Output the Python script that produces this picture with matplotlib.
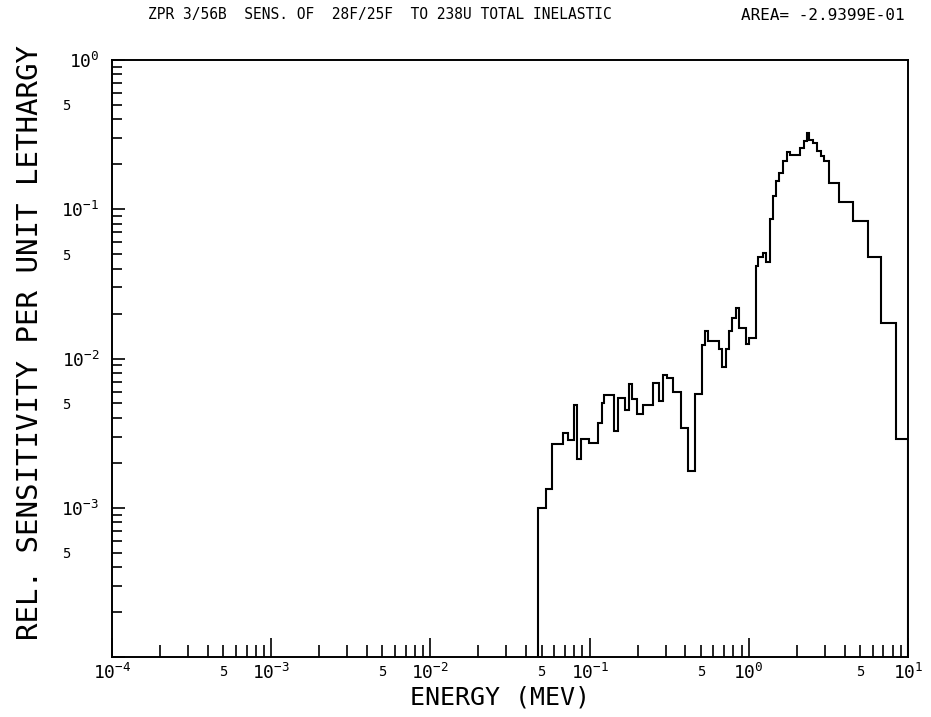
import numpy as np
import matplotlib
matplotlib.use("Agg")
import matplotlib.pyplot as plt
from matplotlib.ticker import FixedLocator, FuncFormatter

# ---------------------------------------------------------------------------
# Data: group boundaries (MeV) and sensitivity per lethargy
# ---------------------------------------------------------------------------
energy_edges = [
    0.0472, 0.0532, 0.0578, 0.0683, 0.0728, 0.0801, 0.0830, 0.0879, 0.0991,
    0.1124, 0.1191, 0.1237, 0.1429, 0.1514, 0.1668, 0.1767, 0.1837, 0.1975,
    0.2173, 0.2512, 0.2740, 0.2903, 0.3049, 0.3354, 0.3733, 0.4130, 0.4590,
    0.5058, 0.5305, 0.5564, 0.6525, 0.6756, 0.7157, 0.7506, 0.7874, 0.8271,
    0.8711, 0.9598, 1.0067, 1.104, 1.147, 1.222, 1.282, 1.358, 1.418, 1.481,
    1.558, 1.646, 1.737, 1.827, 2.111, 2.221, 2.310, 2.398, 2.541, 2.692,
    2.828, 2.966, 3.188, 3.700, 4.532, 5.578, 6.764, 8.400, 10.0,
]
sensitivity = [
    1.000e-3, 1.329e-3, 2.674e-3, 3.183e-3, 2.844e-3, 4.857e-3, 2.131e-3,
    2.902e-3, 2.703e-3, 3.679e-3, 5.009e-3, 5.667e-3, 3.283e-3, 5.410e-3,
    4.518e-3, 6.716e-3, 5.328e-3, 4.247e-3, 4.918e-3, 6.884e-3, 5.215e-3,
    7.752e-3, 7.402e-3, 5.963e-3, 3.406e-3, 1.763e-3, 5.755e-3, 1.232e-2,
    1.540e-2, 1.310e-2, 1.152e-2, 8.812e-3, 1.152e-2, 1.536e-2, 1.859e-2,
    2.190e-2, 1.609e-2, 1.245e-2, 1.378e-2, 4.166e-2, 4.807e-2, 5.066e-2,
    4.411e-2, 8.576e-2, 0.1227, 0.1558, 0.1736, 0.2105, 0.2407, 0.2327,
    0.2585, 0.2867, 0.3267, 0.2889, 0.2792, 0.2475, 0.2291, 0.2115, 0.1488,
    0.1110, 8.367e-2, 4.786e-2, 1.742e-2, 2.874e-3,
]

TITLE = "ZPR 3/56B  SENS. OF  28F/25F  TO 238U TOTAL INELASTIC"
AREA_TEXT = "AREA= -2.9399E-01"
XLABEL = "ENERGY (MEV)"
YLABEL = "REL. SENSITIVITY PER UNIT LETHARGY"

X_RANGE = (1e-4, 1e1)
Y_RANGE = (1e-4, 1e0)

# ---------------------------------------------------------------------------
# Style -- plotter-ish monospace lettering
# ---------------------------------------------------------------------------
plt.rcParams["font.family"] = "DejaVu Sans Mono"
plt.rcParams["mathtext.fontset"] = "custom"
plt.rcParams["mathtext.rm"] = "DejaVu Sans Mono"
plt.rcParams["axes.linewidth"] = 1.4


def decade_label(v, pos):
    e = int(round(np.log10(v)))
    return rf"$\mathregular{{10^{{{e}}}}}$"


def five_label(v, pos):
    m = v / 10 ** np.floor(np.log10(v) + 1e-9)
    return "5" if abs(m - 5) < 0.01 else ""


fig = plt.figure(figsize=(9.31, 7.17), dpi=100)
ax = fig.add_axes([112 / 931, 1 - 657 / 717, 796 / 931, 597 / 717])

ax.stairs(sensitivity, energy_edges, baseline=Y_RANGE[0],
          color="black", lw=1.5)

ax.set_xscale("log")
ax.set_yscale("log")
ax.set_xlim(*X_RANGE)
ax.set_ylim(*Y_RANGE)

x_dec = [10.0 ** e for e in range(-4, 2)]
y_dec = [10.0 ** e for e in range(-4, 1)]
x_min = [m * 10.0 ** e for e in range(-4, 1) for m in range(2, 10)]
y_min = [m * 10.0 ** e for e in range(-4, 0) for m in range(2, 10)]

ax.xaxis.set_major_locator(FixedLocator(x_dec))
ax.xaxis.set_minor_locator(FixedLocator(x_min))
ax.yaxis.set_major_locator(FixedLocator(y_dec))
ax.yaxis.set_minor_locator(FixedLocator(y_min))
ax.xaxis.set_major_formatter(FuncFormatter(decade_label))
ax.xaxis.set_minor_formatter(FuncFormatter(five_label))
ax.yaxis.set_major_formatter(
    FuncFormatter(lambda v, p: "" if v < 2e-4 else decade_label(v, p)))
ax.yaxis.set_minor_formatter(FuncFormatter(five_label))

ax.tick_params(axis="x", which="major", direction="in", length=14,
               width=1.2, labelsize=13, pad=4)
ax.tick_params(axis="x", which="minor", direction="in", length=9,
               width=1.2, labelsize=10, pad=6)
ax.tick_params(axis="y", which="major", direction="in", length=9,
               width=1.2, labelsize=13, pad=9)
ax.tick_params(axis="y", which="minor", direction="in", length=7,
               width=1.2, labelsize=10, pad=36)
for lab in ax.yaxis.get_minorticklabels():
    lab.set_horizontalalignment("left")

fig.text(148 / 931, 1 - 15 / 717, TITLE, fontsize=10.5,
         ha="left", va="center")
fig.text(905 / 931, 1 - 15 / 717, AREA_TEXT, fontsize=11.5,
         ha="right", va="center")
fig.text(500 / 931, 1 - 697 / 717, XLABEL, fontsize=18,
         ha="center", va="center")
fig.text(30 / 931, 1 - 342 / 717, YLABEL, fontsize=21, rotation=90,
         ha="center", va="center")

fig.savefig("out.png", dpi=100)
